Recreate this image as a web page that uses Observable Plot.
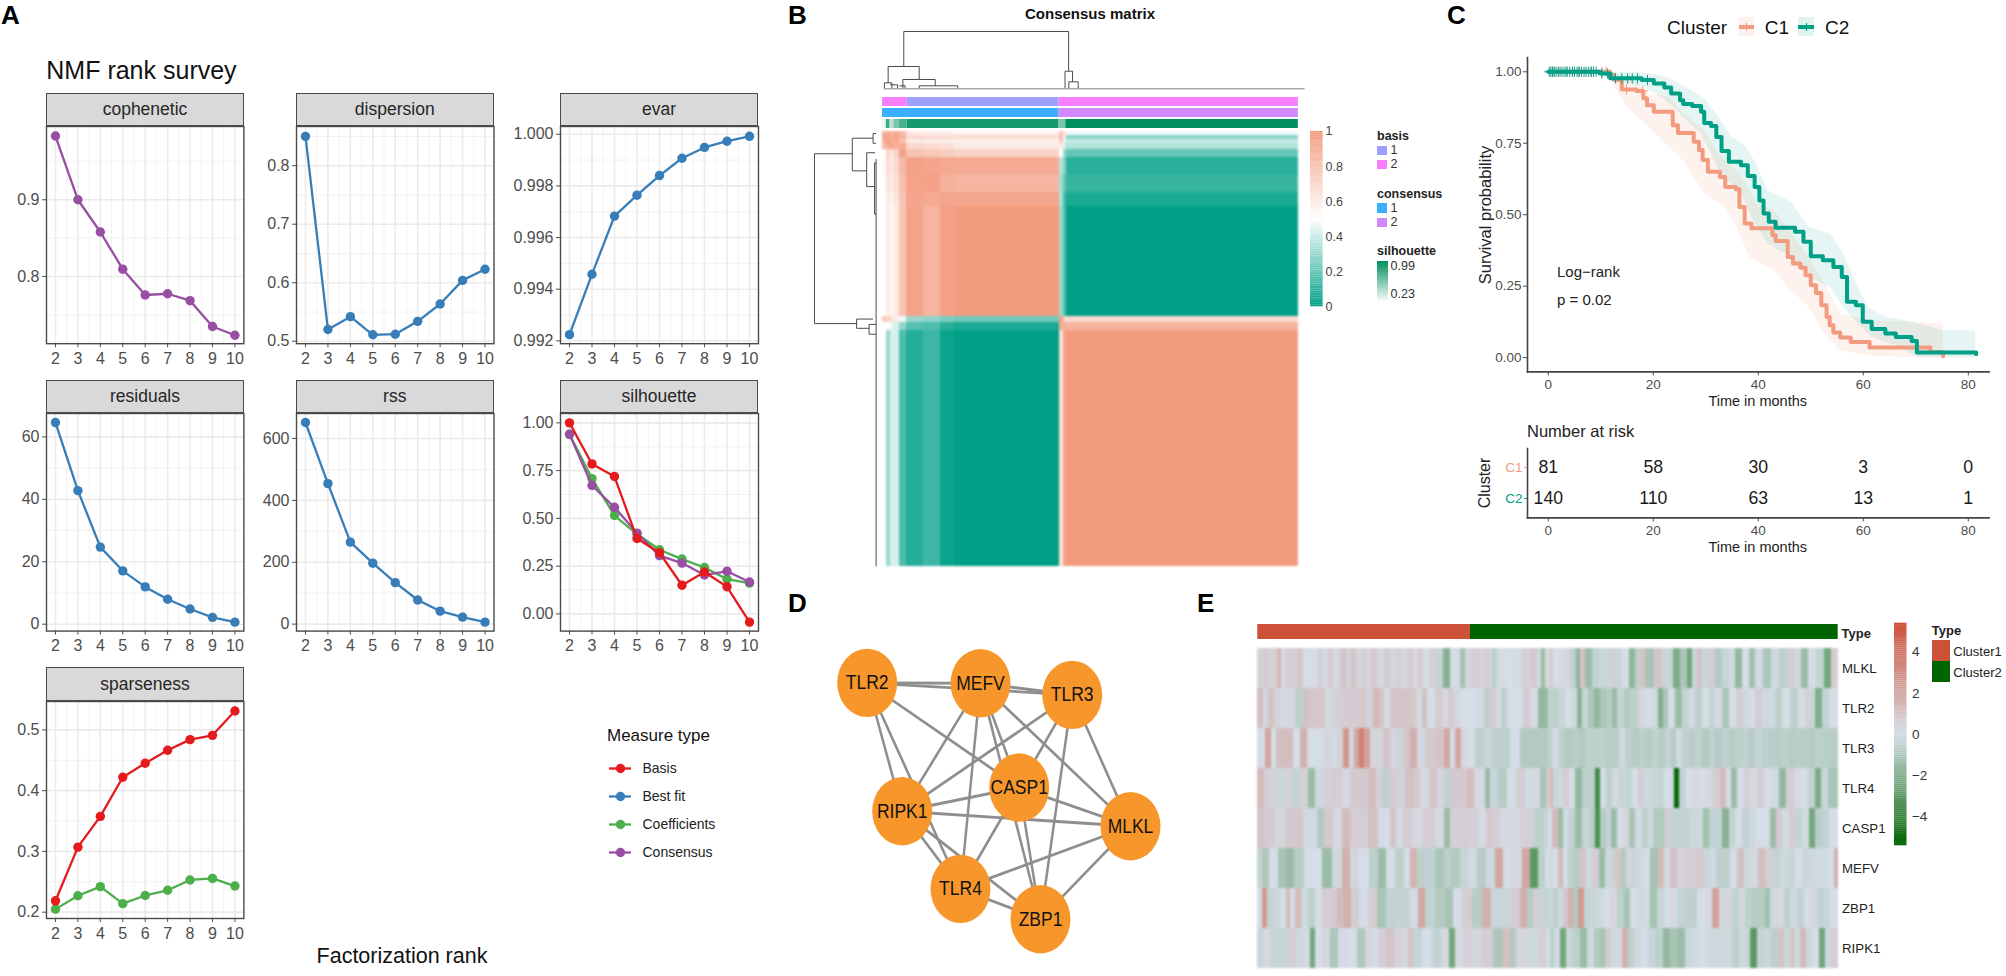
<!DOCTYPE html>
<html><head><meta charset="utf-8">
<script src="https://cdn.jsdelivr.net/npm/d3@7"></script>
<script src="https://cdn.jsdelivr.net/npm/@observablehq/plot@0.6"></script>
<style>
html,body{margin:0;padding:0;background:#fff}
#root{position:relative;width:2006px;height:976px;overflow:hidden;font-family:"Liberation Sans",Arial,sans-serif}
.t{position:absolute;white-space:nowrap;line-height:1}
.b{position:absolute}
</style></head><body><div id="root"></div>
<script>
// ---------- Panel A data ----------
const ranks=[2,3,4,5,6,7,8,9,10];
const copheneticConsensus=[.983,.9,.858,.8096,.776,.7776,.7686,.735,.7236];
const dispersionBest=[.85,.52,.542,.511,.512,.534,.5636,.604,.623];
const evarBest=[.99224,.99458,.99683,.99764,.9984,.99907,.99949,.99973,.99992];
const residualsBest=[64.6,42.8,24.7,17.1,11.95,8,4.86,2.2,.66];
const rssBest=[651.7,454,265,197,134,78,42,22.5,6.6];
const silhouetteBasis=[1,.785,.719,.395,.32,.15,.219,.142,-.043];
const silhouetteCoef=[.94,.708,.515,.418,.336,.287,.243,.182,.161];
const silhouetteCons=[.94,.672,.558,.423,.305,.266,.204,.223,.167];
const sparsenessBasis=[.2187,.307,.3577,.422,.445,.4665,.484,.491,.531];
const sparsenessCoef=[.205,.227,.242,.214,.2275,.236,.253,.2555,.243];
const measures=["Basis","Best fit","Coefficients","Consensus"];
const measureColors=["#E41A1C","#377EB8","#4DAF4A","#984EA3"];
// ---------- Panel B data ----------
const rowBreaks=[0,2,4,6,9,13,22,31,38,94,97,101,221];
const colBreaks=[0,2,4,6,9,13,22,31,38,94,96,98,221];
const m0=[.88,.92,.85,.92,.85,.6,.58,.58,.56,.8,.62,.47];
const m1=[.95,.95,.9,.95,.88,.7,.68,.68,.67,.82,.6,.27];
const m2=[.9,.97,.9,.92,.82,.6,.59,.58,.57,.75,.45,.38];
const m3=[.85,.9,.97,.88,.92,.7,.67,.65,.61,.6,.42,.35];
const m4=[.5,.72,.62,.72,.97,.8,.77,.75,.72,.5,.3,.2];
const m5=[.52,.68,.6,.68,.85,.97,.95,.93,.92,.36,.26,.08];
const m6=[.52,.64,.58,.66,.82,.96,.97,.89,.87,.32,.2,.11];
const m7=[.5,.62,.56,.62,.8,.95,.93,.95,.94,.34,.13,.05];
const m8=[.5,.6,.54,.6,.8,.96,.87,.97,1,.3,.16,0];
const m9=[.75,.72,.65,.6,.47,.3,.28,.24,.22,.98,.7,.68];
const m10=[.5,.5,.46,.42,.28,.17,.15,.08,.05,.92,.9,.88];
const m11=[.5,.3,.42,.42,.15,.07,.12,.02,0,.65,.95,1];
const matrixRows=[m0,m1,m2,m3,m4,m5,m6,m7,m8,m9,m10,m11];
const basisRuns=[[0,13.1,"2"],[13.1,93.8,"1"],[93.8,221,"2"]];
const consensusRuns=[[0,93.8,"1"],[93.8,221,"2"]];
const silBreaks=[0,2,4,6,9,13,93.8,97.4,221];
const silValues=[.25,.8,.4,.6,.75,.92,.6,.99];
const topTree=[[11.3,57.3,98.9,57.3],[11.3,57.3,11.3,22.3],[98.9,57.3,98.9,17.6],[3,22.3,19.5,22.3],[3,22.3,3,6],[19.5,22.3,19.5,9.3],[10.8,9.3,28,9.3],[10.8,9.3,10.8,0],[28,9.3,28,3],[19.5,3,40,3],[19.5,3,19.5,0],[40,3,40,0],[1,6,5,6],[1,6,1,0],[5,6,5,0],[4,4,8,4],[8,4,8,0],[9,3,12,3],[12,3,12,0],[97,17.6,101,17.6],[97,17.6,97,0],[101,17.6,101,7],[99,7,104,7],[99,7,99,0],[104,7,104,0]];
const leftTree=[[61.6,11.3,61.6,97.6],[61.6,11.3,23.8,11.3],[61.6,97.6,19.5,97.6],[23.8,3.4,23.8,20],[23.8,3.4,3,3.4],[23.8,20,9.4,20],[9.4,10.8,9.4,28],[9.4,10.8,1,10.8],[9.4,28,1.5,28],[19.5,95.3,19.5,100],[19.5,95.3,3,95.3],[19.5,100,7,100],[7,98,7,103],[7,98,0,98],[7,103,0,103],[3,1,3,6],[3,1,0,1],[3,6,0,6],[1.5,16,1.5,42],[1.5,16,0,16],[1.5,42,0,42],[0,14,0,221]];
// ---------- Panel C data ----------
const c1T=[0,11.5,12.5,14,16.8,18.1,18.8,20.1,23.7,24.7,27.7,28.7,29.4,30.4,32.7,33.7,35.7,36.4,37.4,38.7,42.7,43.3,45.6,46.6,48,49,50,51,52,53,53.6,54.3,55.6,57.6,61.2,72.8,75.2];
const c1S=[1,.99,.971,.938,.933,.907,.883,.86,.813,.786,.755,.726,.691,.65,.632,.597,.589,.527,.469,.453,.428,.408,.352,.329,.314,.288,.253,.226,.183,.142,.113,.0875,.07,.055,.035,.02,.005];
const c2T=[0,9.8,11.8,17.8,20.1,22.1,23.4,25.1,25.7,27.4,29.1,29.7,31,32,33,34.4,36.7,38,39.3,40.2,41,42,43.3,47,48.6,50,52.3,54.3,55.9,56.9,58.6,59.9,61.6,64.2,66.2,69.2,70.2,81.5];
const c2S=[1,.994,.977,.971,.959,.945,.924,.9,.887,.88,.86,.821,.81,.772,.723,.685,.673,.635,.597,.55,.504,.475,.454,.44,.405,.355,.341,.317,.282,.195,.183,.125,.1,.084,.072,.058,.0175,.012];
const c1HiT=[11.5,16.5,19,23,25.7,29.7,32.4,36.4,39.7,43,46.3,49.6,53,55.6,61.6,75.2,75.2];
const c1HiS=[1,.965,.924,.912,.854,.796,.714,.644,.539,.516,.434,.352,.247,.154,.131,.119,0];
const c1LoT=[11.5,12.5,15,18.4,23,25.7,29.7,33.7,36.4,38.3,43,45.6,49.6,53,55.6,62];
const c1LoS=[1,.947,.877,.819,.737,.69,.574,.527,.434,.352,.306,.247,.177,.072,.026,.005];
const c2HiT=[9.8,17,21,23,26.4,29.7,32.4,35,37.7,39.7,41.7,46.3,49.6,53.6,56.2,58.6,60.9,64.2,69.5,75.2,81.3,81.3];
const c2HiS=[1,1,.99,.977,.945,.907,.842,.772,.737,.673,.586,.545,.457,.434,.364,.259,.177,.142,.125,.096,.096,0];
const c2LoT=[9.8,11.8,18.4,22.4,25.7,29,31,33,36.4,39,41.7,46.3,49.6,53.6,56.2,58.9,61.6,66.2,70.2];
const c2LoS=[1,.977,.945,.9,.842,.784,.714,.632,.586,.48,.4,.352,.282,.247,.177,.119,.072,.043,.002];
const c1Censor=[1.2,2.1,3.5,5.8,8.1,10.2,11,11.6,12,14.9,18];
const c2Censor=[.2,.5,.8,1.1,1.5,1.9,2.4,2.8,3.2,3.6,4.1,4.6,5,5.5,5.9,6.3,6.8,7.2,7.7,8.2,8.6,9.1,10.2,11.3,12.8,14,15.1,16,17,18.9];
const riskTimes=[0,20,40,60,80];
const riskC1=[81,58,30,3,0];
const riskC2=[140,110,63,13,1];
// ---------- Panel D data ----------
const nodeNames=["TLR2","MEFV","TLR3","CASP1","RIPK1","MLKL","TLR4","ZBP1"];
const nodeX=[866.7,980,1071.7,1018.7,901.7,1130,960,1040];
const nodeY=[682.3,682.7,694.3,787,810.7,825.7,888.3,918.7];
const edgeList=[["TLR2","MEFV"],["MEFV","TLR3"],["TLR2","TLR3"],["TLR2","CASP1"],["TLR2","RIPK1"],["TLR2","TLR4"],["MEFV","RIPK1"],["MEFV","TLR4"],["MEFV","CASP1"],["MEFV","ZBP1"],["MEFV","MLKL"],["TLR3","RIPK1"],["TLR3","CASP1"],["TLR3","ZBP1"],["TLR3","MLKL"],["CASP1","RIPK1"],["CASP1","MLKL"],["CASP1","TLR4"],["CASP1","ZBP1"],["RIPK1","MLKL"],["RIPK1","TLR4"],["RIPK1","ZBP1"],["TLR4","MLKL"],["TLR4","ZBP1"],["MLKL","ZBP1"]];
// ---------- Panel E data: read position along the strip, value ----------
const genes=["MLKL","TLR2","TLR3","TLR4","CASP1","MEFV","ZBP1","RIPK1"];
const MLKL_L=[28,.8,44,1,60,.7,72,.8,86,2.2,98,.3,116,1,132,.8,148,1.3,165,0,190,0,210,.8,225,.3,240,1.1,258,.4,280,1.5,295,.8,310,1.5,325,.5,340,.9,355,.6,370,1.2,390,.3,410,1.1,425,.3,445,.8,462,.3,480,1,495,.4,510,1.1,525,0,545,.9,565,-.7,590,-2.6,610,0,622,.1,635,-1.7,655,.6,675,1,695,.7,712,1,720,.5,732,-1,750,.2,775,0,800,.1,825,.8,850,1.1,868,.4,875,-2,890,.3];
const MLKL_R=[15,1,30,0,50,.3,70,.5,85,-1,100,-2.3,110,1.5,130,-2,150,-.8,170,-.5,190,-.5,205,1,220,-.5,240,0,260,-2.3,275,-1,290,1.5,310,-1.6,340,1.5,360,-.5,375,-.6,393,-2.8,415,-1.5,432,-3,450,-.5,462,1.5,480,-.5,500,1,520,-1.3,540,-.6,560,-.3,578,-2.2,600,0,620,-1.8,640,-.2,665,-1.5,690,-.3,710,-1,740,1,760,-.3,775,-2,800,0,825,-.7,848,-3,865,1];
const TLR2_L=[30,1.8,45,.5,60,1.6,80,.8,100,.2,125,.4,145,-1,170,1.6,190,1.3,215,1.4,230,.2,250,.6,270,1,295,1.1,320,1,340,1.3,355,.8,378,2.1,395,1.5,408,.1,430,1.5,460,1.5,490,1.4,505,.2,522,1.6,540,0,570,1,585,.3,600,1.1,620,.4,640,0,665,0,690,.2,710,-1,730,1,745,.1,760,-1,780,0,805,0,828,1.1,850,.1,875,-2.2,890,-2];
const TLR2_R=[10,-.8,30,-1,50,-.6,70,0,90,-.3,101,-2.5,118,-.5,135,-1.5,155,-2.2,175,-1.5,190,-1.2,207,-2,225,-.7,245,-1.3,265,-1,290,.5,310,0,330,-.3,345,-2.7,360,-1.5,375,0,400,-2,420,-.7,440,.2,460,-1,480,0,500,-.7,520,.2,542,-1.5,560,0,585,1,600,-.3,620,0,640,1,660,-.3,680,-.2,700,-1,720,0,745,-1,770,0,785,.8,800,-.5,820,-2.7,840,-.7,860,0];
const TLR3_L=[30,.1,55,3,70,0,85,1.8,105,1.8,120,1.8,135,0,160,2.5,180,0,210,0,230,.5,250,.2,270,.7,288,3.6,303,.5,318,3,332,4.5,350,3.2,370,.5,385,.5,410,1.5,430,.5,450,-.5,470,1.5,490,2.5,510,.3,540,1.2,570,1.5,590,3,605,0,622,3,640,.3,660,0,690,-1,710,-.5,740,-1,770,-1,790,0,830,-1.3,870,-1.3,890,-1.3];
const TLR3_R=[10,-1,30,-.2,50,-1,70,-1.3,90,-1.1,110,-1.3,130,-1,150,-1,170,-1,190,-1.1,210,-1.1,230,-.2,250,-1,270,-1.2,290,-1,310,-1.2,330,-.9,350,-1.2,370,-.7,385,-1.2,400,-.2,420,-.9,440,-1.1,460,-.9,480,-1.3,500,-.9,520,-1.2,540,-.9,560,-1.2,580,-1,600,-.9,620,-1.2,640,-.7,660,-1,680,-1.1,700,-1.1,720,-1,740,-1.2,760,-1.1,780,-1.1,800,-1.3,820,-1,840,-1.1,860,-1.2];
const TLR4_L=[30,2,50,.8,70,.7,95,-.5,110,.7,140,-.7,160,.8,183,-2,205,-.3,230,.8,260,1,290,.3,310,1.2,340,1.2,370,2,385,.8,405,-1,425,1,450,.8,480,1.6,500,1.2,520,.3,550,1.5,570,.5,590,-.8,610,1.2,640,1.2,660,1.8,680,.3,700,.2,710,-2,730,-.5,755,-1.2,785,0,810,1,835,-.2,860,.3,880,-1.6,895,1.2];
const TLR4_R=[15,2,30,-.5,45,-.3,60,1,80,0,100,-2.2,120,-1,140,-1,155,-4,175,0,190,-1,210,.3,230,-.6,250,-.7,270,0,285,1,305,-.3,325,-.5,345,-.6,365,0,380,-.3,392,-5.3,410,-.8,430,0,450,.2,470,0,490,.3,510,1,535,2,550,0,565,-2,585,0,605,.8,625,.2,645,1,665,0,690,-.2,710,-2.2,735,1,755,.2,775,0,800,-.8,817,-2.8,835,-.5,860,-1.6];
const CASP1_L=[30,1.5,60,1.1,90,.5,115,1.2,145,1.3,170,-.2,190,-.2,208,-1.3,235,1.2,260,.3,290,2,310,1,335,1,370,1.6,395,.1,410,0,430,1.5,445,.2,470,1,500,.3,535,1,570,.3,590,-2,610,.8,640,1,670,.8,700,.1,715,1.2,735,1,760,.2,790,.3,830,.8,870,-1,890,-.6];
const CASP1_R=[10,0,30,2,45,-2,60,-.2,80,-.8,100,-2,120,-.6,140,-1.1,155,-3.8,175,-1.2,190,-.7,205,-2,225,0,240,.5,260,-1.6,280,-.2,300,-1,315,-.3,330,-1.3,350,-1.3,368,1,385,-.7,405,-.7,425,-.7,445,-.4,465,-.4,480,-1.8,500,-.8,520,-.7,542,-2.5,560,-.7,580,0,600,-.8,620,-.4,640,0,665,0,685,-2,700,1.2,720,-.2,740,1,760,-.7,780,-.2,800,-3,820,-1.1,840,-.8,860,0];
const MEFV_L=[25,-.7,42,-1.4,70,0,95,-1.6,118,-2,145,-1.2,175,0,200,0,232,-2,260,-.3,290,2.5,310,.5,340,0,370,-1,395,-2,420,0,450,-1,470,0,490,2.3,510,-1,540,-.8,570,-1.5,590,-1,615,-1.3,640,-.6,665,-.2,695,-1.2,720,-.3,748,3,770,0,800,.3,828,3,850,-3.5,875,-1,895,0];
const MEFV_R=[15,.3,30,0,45,2,60,0,75,-1,95,-1.2,115,1.5,130,-.3,150,1,170,-2,185,-.4,200,-.5,218,1.5,235,-1.3,250,.6,265,-.5,285,-.3,305,0,325,-1.7,348,2,365,.2,385,1.6,405,.6,425,1,445,1,465,1.2,485,-.5,505,-.2,520,-1,545,-1,565,0,585,1.7,605,-.4,625,.3,650,1.8,670,1,695,-.7,720,-.3,740,-.6,760,0,780,-.5,800,-.3,820,-.2,840,-.2,860,0,872,2.5];
const ZBP1_L=[25,0,42,3.5,60,-.7,80,-.5,100,0,112,2,125,0,143,2,160,-.3,185,-1,205,0,225,1,250,1.2,270,2,293,2.5,310,1,340,0,365,1,395,-1.6,420,-.8,445,-.7,470,-.7,490,.2,513,3,535,-.8,570,-1.3,595,-1.6,620,0,650,1,680,-1.2,710,2.5,735,-.5,770,-.5,795,1,820,2.5,838,-1.2,855,1,870,-.6,890,-.7];
const ZBP1_R=[15,-.5,30,-1,45,-.3,60,1.3,75,2.5,90,-1.3,108,3.5,125,-.7,145,-.5,165,-.3,185,0,205,.5,225,-1,245,-1.6,265,0,285,-.3,305,-.2,322,-1.7,345,-.5,365,0,385,.3,405,-.7,425,-.9,445,-1,465,0,490,.2,510,3.2,530,.4,550,.5,570,-.8,590,.3,610,-1,630,-1.2,650,-1.2,665,-1.8,685,-.3,705,.3,725,-1,745,-.3,765,-.8,785,0,805,.3,825,-.8,845,-.5,865,0];
const RIPK1_L=[30,-.5,50,.2,70,-.6,100,-.6,125,1,150,-.3,170,.2,185,-3,205,0,225,.5,250,-1.5,275,.2,305,0,333,-1.4,355,.5,375,.2,395,1,420,1.5,440,.7,465,.5,480,1.5,500,-.7,530,0,560,-.8,585,.3,605,-3,625,.2,650,.8,675,.5,710,1,745,-1.5,770,1.7,785,-1.3,810,.5,850,-.3,880,1,895,0];
const RIPK1_R=[15,-1,35,-.2,52,-3,70,-.5,90,-1,115,-2,135,-.3,155,-1.3,170,-1.6,185,1.3,200,-.3,220,-.2,238,2.5,255,-1,275,-.3,295,0,320,-.6,340,-1,365,-2.2,385,-1.6,410,-2,430,-.5,450,-.2,470,0,490,-.3,510,-.4,530,-.3,550,-.3,570,-1,590,-.3,605,-.5,625,-3.5,645,-.7,665,-.5,690,-1,705,1.5,725,-.5,740,1.3,755,-.3,772,2,790,-.4,810,0,830,-3,845,-.3,860,1];
const geneLeft=[MLKL_L,TLR2_L,TLR3_L,TLR4_L,CASP1_L,MEFV_L,ZBP1_L,RIPK1_L];
const geneRight=[MLKL_R,TLR2_R,TLR3_R,TLR4_R,CASP1_R,MEFV_R,ZBP1_R,RIPK1_R];

// ---------- helpers ----------
const FONT='"Liberation Sans",Arial,sans-serif';
const root=document.getElementById("root");
function P(x0,y0,x1,y1,o,m={},extra={}){
  const {ml=0,mr=0,mt=0,mb=0}=m;
  const el=Plot.plot({width:x1-x0+ml+mr,height:y1-y0+mt+mb,marginLeft:ml,marginRight:mr,marginTop:mt,marginBottom:mb,
    style:{position:"absolute",left:(x0-ml)+"px",top:(y0-mt)+"px",overflow:"visible",background:"transparent",fontFamily:FONT,maxWidth:"none",...extra},...o});
  root.append(el);return el;
}
function txt(s,x,y,o={}){
  const {size=14,anchor="start",weight="normal",color="#1a1a1a",rot=0,font=FONT,lh=1}=o;
  const d=document.createElement("div");d.className="t";d.textContent=s;
  const tx=anchor==="start"?"0":anchor==="middle"?"-50%":"-100%";
  d.style.cssText=`left:${x}px;top:${y}px;font-size:${size}px;font-weight:${weight};color:${color};font-family:${font};line-height:${lh};transform:translate(${tx},-50%) rotate(${rot}deg)`;
  root.append(d);return d;
}
function box(x0,y0,x1,y1,bg,css=""){
  const d=document.createElement("div");d.className="b";
  d.style.cssText=`left:${x0}px;top:${y0}px;width:${x1-x0}px;height:${y1-y0}px;background:${bg};${css}`;
  root.append(d);return d;
}
const hdr={size:26,weight:"bold",color:"#000",lh:1.2};
txt("A",1,16,hdr);txt("B",788,16,hdr);txt("C",1447,16,hdr);txt("D",788,604,hdr);txt("E",1197,604,hdr);

// ---------- Panel A ----------
txt("NMF rank survey",46.3,70,{size:25,color:"#111"});
const colX=[[46.3,243.7],[296,493.5],[560,758]];
function facet(name,col,stripTop,top,bottom,dom,ticks,fmt,series){
  const [x0,x1]=colX[col];
  box(x0,stripTop,x1,top,"#d9d9d9","box-sizing:border-box;border:1.3px solid #4a4a4a");
  txt(name,(x0+x1)/2,(stripTop+top)/2+.5,{size:17.5,anchor:"middle",color:"#262626"});
  const step=ticks[1]-ticks[0];
  const minorY=[ticks[0]-step/2,...ticks.map(t=>t+step/2)].filter(v=>v>dom[0]&&v<dom[1]);
  const minorX=ranks.slice(0,-1).map(r=>r+.5);
  P(x0,top,x1,bottom,{
    x:{domain:[1.6,10.4],axis:null},y:{domain:dom,axis:null},
    marks:[
      Plot.ruleX(minorX,{stroke:"#f2f2f2",strokeWidth:1}),
      Plot.ruleY(minorY,{stroke:"#f2f2f2",strokeWidth:1}),
      Plot.ruleX(ranks,{stroke:"#ebebeb",strokeWidth:1.6}),
      Plot.ruleY(ticks,{stroke:"#ebebeb",strokeWidth:1.6}),
      ...series.flatMap(([vals,c])=>{
        const d=ranks.map((r,i)=>({r,v:vals[i]}));
        return [Plot.line(d,{x:"r",y:"v",stroke:c,strokeWidth:2.3}),Plot.dot(d,{x:"r",y:"v",fill:c,r:4.7})];
      }),
      Plot.frame({stroke:"#4a4a4a",strokeWidth:1.4}),
      Plot.axisX(ranks,{label:null,tickSize:4,tickPadding:5,fontSize:16,color:"#4d4d4d",tickFormat:d=>d}),
      Plot.axisY(ticks,{label:null,tickSize:4,tickPadding:3,fontSize:16,color:"#4d4d4d",tickFormat:fmt})
    ]
  },{ml:60,mr:6,mt:4,mb:30});
}
const [cBasis,cBest,cCoef,cCons]=measureColors;
facet("cophenetic",0,93,125.7,342.9,[.7126,.9954],[.8,.9],d3.format(".1f"),[[copheneticConsensus,cCons]]);
facet("dispersion",1,93,125.7,342.9,[.4958,.867],[.5,.6,.7,.8],d3.format(".1f"),[[dispersionBest,cBest]]);
facet("evar",2,93,125.7,342.9,[.99189,1.0003],[.992,.994,.996,.998,1],d3.format(".3f"),[[evarBest,cBest]]);
facet("residuals",0,380.4,413,630.6,[-2.2,67.5],[0,20,40,60],d3.format("d"),[[residualsBest,cBest]]);
facet("rss",1,380.4,413,630.6,[-22.5,680.8],[0,200,400,600],d3.format("d"),[[rssBest,cBest]]);
facet("silhouette",2,380.4,413,630.6,[-.09,1.049],[0,.25,.5,.75,1],d3.format(".2f"),[[silhouetteCoef,cCoef],[silhouetteCons,cCons],[silhouetteBasis,cBasis]]);
facet("sparseness",0,667.3,700.7,917.7,[.1896,.5467],[.2,.3,.4,.5],d3.format(".1f"),[[sparsenessCoef,cCoef],[sparsenessBasis,cBasis]]);
txt("Factorization rank",402,957,{size:21.5,anchor:"middle",color:"#111"});
txt("Measure type",607,735,{size:17,color:"#111"});
P(609,767.3,631,853.7,{
  x:{domain:[0,1],axis:null},y:{type:"point",domain:measures,padding:0,axis:null},
  marks:[
    Plot.ruleY(measures,{y:d=>d,x1:0,x2:1,stroke:d=>measureColors[measures.indexOf(d)],strokeWidth:2.3}),
    Plot.dot(measures,{x:()=>.5,y:d=>d,fill:d=>measureColors[measures.indexOf(d)],r:4.7}),
    Plot.text(measures,{x:()=>1,y:d=>d,text:d=>d,textAnchor:"start",dx:11,fontSize:14,fill:"#222"})
  ],color:{type:"identity"}
},{mr:100,mt:6,mb:6});

// ---------- Panel B ----------
txt("Consensus matrix",1090,13.3,{size:15,weight:"bold",anchor:"middle",color:"#111"});
const nmfColor={type:"linear",domain:[0,.5,1],range:["#00A087","#ffffff","#F39B7F"],interpolate:"rgb"};
const cells=matrixRows.flatMap((row,i)=>row.map((v,j)=>({x1:colBreaks[j],x2:colBreaks[j+1],y1:rowBreaks[i],y2:rowBreaks[i+1],v})));
P(882.3,130.7,1298.2,565.7,{
  x:{domain:[0,221],axis:null},y:{domain:[221,0],axis:null},color:nmfColor,
  marks:[Plot.rect(cells,{x1:"x1",x2:"x2",y1:"y1",y2:"y2",fill:"v",shapeRendering:"crispEdges"})]
},{},{filter:"blur(.9px)"});
const annoRows=["basis","consensus","silhouette"];
const basisFill={"1":"#9e9efc","2":"#f77ffc"};const consFill={"1":"#3aaeff","2":"#d088fc"};
const silColor=d3.scaleLinear([.23,.99],["#f1f8f5","#008f5f"]);
const anno=[
  ...basisRuns.map(([a,b,k])=>({a,b,row:"basis",c:basisFill[k]})),
  ...consensusRuns.map(([a,b,k])=>({a,b,row:"consensus",c:consFill[k]})),
  ...silValues.map((v,i)=>({a:silBreaks[i],b:silBreaks[i+1],row:"silhouette",c:silColor(v)}))
];
P(882.3,94.8,1298.2,130.2,{
  x:{domain:[0,221],axis:null},y:{domain:annoRows,axis:null,padding:.19,align:.5},color:{type:"identity"},
  marks:[Plot.barX(anno,{x1:"a",x2:"b",y:"row",fill:"c"})]
});
const seg=(arr)=>Plot.link(arr,{x1:d=>d[0],y1:d=>d[1],x2:d=>d[2],y2:d=>d[3],stroke:"#4a4a4a",strokeWidth:1});
P(882.3,31,1298.2,88.3,{
  x:{domain:[0,221],axis:null},y:{domain:[0,57.3],axis:null},
  marks:[seg(topTree),Plot.ruleY([0],{x1:.9,x2:224.6,stroke:"#a8a8a8",strokeWidth:1.6})]
});
P(813.8,130.7,875.4,565.7,{
  x:{domain:[61.6,0],axis:null},y:{domain:[221,0],axis:null},marks:[seg(leftTree)]
});
P(1310.4,130.7,1323,306,{
  x:{domain:[0,1],axis:null},y:{domain:[0,1],axis:null},color:nmfColor,
  marks:[
    Plot.rect(d3.range(0,1,.01),{x1:0,x2:1,y1:d=>d,y2:d=>d+.0105,fill:d=>d+.005}),
    Plot.axisY([0,.2,.4,.6,.8,1],{label:null,anchor:"right",tickSize:0,tickPadding:2.5,fontSize:12.5,color:"#444",tickFormat:d=>d})
  ]
},{mr:30,mt:6,mb:6});
const lg={size:12.5,color:"#333"},lh={size:12.5,weight:"bold",color:"#222"};
txt("basis",1377,135.7,lh);
box(1377,145.7,1387,155,"#9e9efc");box(1377,160,1387,169.3,"#f77ffc");
txt("1",1390.6,150,lg);txt("2",1390.6,164.3,lg);
txt("consensus",1377,193.7,lh);
box(1377,203.3,1387,212.7,"#3aaeff");box(1377,217.7,1387,227,"#d088fc");
txt("1",1390.6,207.7,lg);txt("2",1390.6,222.3,lg);
txt("silhouette",1377,251,lh);
box(1377,261,1388,300,"linear-gradient(#008f5f,#f1f8f5)");
txt("0.99",1390.6,265.7,lg);txt("0.23",1390.6,294.3,lg);

// ---------- Panel C ----------
txt("Cluster",1667,26.7,{size:19,color:"#111"});
box(1738.6,16.7,1754,35.7,"rgba(243,155,127,.14)");box(1738.6,25,1754,28.5,"#F39B7F");box(1745.8,22.5,1746.8,31,"#F39B7F");
txt("C1",1764.7,26.7,{size:19,color:"#111"});
box(1798.4,16.7,1814.4,35.7,"rgba(0,160,135,.12)");box(1798.4,25,1814.4,28.5,"#00A087");box(1805.9,22.5,1806.9,31,"#00A087");
txt("C2",1825,26.7,{size:19,color:"#111"});
function stepAt(T,S,t){let i=d3.bisectRight(T,t)-1;return S[Math.max(i,0)];}
const outline=(hT,hS,lT,lS)=>[...hT.map((t,i)=>({t,s:hS[i]})),...lT.map((t,i)=>({t,s:lS[i]})).reverse()];
const curve=(T,S)=>T.map((t,i)=>({t,s:S[i]}));
const censor=(ts,T,S)=>ts.map(t=>({t,s:stepAt(T,S,t)}));
const C1col="#F39B7F",C2col="#00A087";
const timeDom=[-3.96,83.96];
P(1526.9,57.3,1988.5,371.7,{
  x:{domain:timeDom,axis:null},y:{domain:[-.05,1.05],axis:null},
  marks:[
    Plot.line(outline(c1HiT,c1HiS,c1LoT,c1LoS),{x:"t",y:"s",fill:C1col,fillOpacity:.13,stroke:"none"}),
    Plot.line(outline(c2HiT,c2HiS,c2LoT,c2LoS),{x:"t",y:"s",fill:C2col,fillOpacity:.1,stroke:"none"}),
    Plot.line(curve(c1T,c1S),{x:"t",y:"s",curve:"step-after",stroke:C1col,strokeWidth:4}),
    Plot.dot(censor(c1Censor,c1T,c1S),{x:"t",y:"s",symbol:"plus",stroke:C1col,r:3.4,strokeWidth:1}),
    Plot.line(curve(c2T,c2S),{x:"t",y:"s",curve:"step-after",stroke:C2col,strokeWidth:4}),
    Plot.dot(censor(c2Censor,c2T,c2S),{x:"t",y:"s",symbol:"plus",stroke:C2col,r:3.4,strokeWidth:1}),
    Plot.frame({anchor:"left",stroke:"#444",strokeWidth:1.6}),
    Plot.frame({anchor:"bottom",stroke:"#444",strokeWidth:1.6}),
    Plot.axisX(riskTimes,{label:null,tickSize:4,tickPadding:4,fontSize:13.5,color:"#4d4d4d",tickFormat:d=>d}),
    Plot.axisY([0,.25,.5,.75,1],{label:null,tickSize:4,tickPadding:2,fontSize:13.5,color:"#4d4d4d",tickFormat:d3.format(".2f")}),
    Plot.text(["Log\u2212rank"],{x:()=>1.66,y:()=>.3,text:d=>d,textAnchor:"start",fontSize:15,fill:"#222"}),
    Plot.text(["p = 0.02"],{x:()=>1.66,y:()=>.2,text:d=>d,textAnchor:"start",fontSize:15,fill:"#222"})
  ]
},{ml:40,mr:4,mt:2,mb:26});
txt("Time in months",1757.7,401,{size:14.5,anchor:"middle",color:"#222"});
txt("Survival probability",1485,215,{size:16.5,anchor:"middle",color:"#222",rot:-90});
txt("Number at risk",1527,430.7,{size:16.5,color:"#222"});
const clusters=["C1","C2"];
const riskRows=[...riskTimes.map((t,i)=>({t,c:"C1",n:riskC1[i]})),...riskTimes.map((t,i)=>({t,c:"C2",n:riskC2[i]}))];
P(1526.9,448.3,1988.5,517.7,{
  x:{domain:timeDom,axis:null},y:{type:"point",domain:clusters,padding:.6,axis:null},
  marks:[
    Plot.frame({anchor:"left",stroke:"#444",strokeWidth:1.6}),
    Plot.frame({anchor:"bottom",stroke:"#444",strokeWidth:1.6}),
    Plot.text(riskRows,{x:"t",y:"c",text:d=>String(d.n),fontSize:17.7,fill:"#1a1a1a"}),
    Plot.axisX(riskTimes,{label:null,tickSize:4,tickPadding:4,fontSize:13.5,color:"#4d4d4d",tickFormat:d=>d}),
    Plot.axisY(["C1"],{label:null,tickSize:3,tickPadding:2,fontSize:13.5,color:C1col}),
    Plot.axisY(["C2"],{label:null,tickSize:3,tickPadding:2,fontSize:13.5,color:C2col})
  ]
},{ml:40,mr:4,mt:2,mb:26});
txt("Time in months",1757.7,546.7,{size:14.5,anchor:"middle",color:"#222"});
txt("Cluster",1485,482.7,{size:16,anchor:"middle",color:"#222",rot:-90});

// ---------- Panel D ----------
const nodes=nodeNames.map((n,i)=>({n,x:nodeX[i],y:nodeY[i]}));
const byName=Object.fromEntries(nodes.map(d=>[d.n,d]));
const edges=edgeList.map(([a,b])=>({a:byName[a],b:byName[b]}));
const dStretch=1.14;
const dTop=630,dBottom=970;
P(800,dTop,1190,dTop+(dBottom-dTop)/dStretch,{
  x:{domain:[800,1190],axis:null},y:{domain:[dBottom,dTop],axis:null},
  marks:[
    Plot.link(edges,{x1:d=>d.a.x,y1:d=>d.a.y,x2:d=>d.b.x,y2:d=>d.b.y,stroke:"#8e8e8e",strokeWidth:2.5}),
    Plot.dot(nodes,{x:"x",y:"y",r:30,fill:"#F7972B"}),
    Plot.text(nodes,{x:"x",y:"y",text:"n",fontSize:17.5,fill:"#111"})
  ]
},{},{transform:`scaleY(${dStretch})`,transformOrigin:"0 0"});

// ---------- Panel E ----------
const heat=genes.flatMap((g,gi)=>{
  const pts=[];
  const L=geneLeft[gi],R=geneRight[gi];
  for(let i=0;i<L.length;i+=2)pts.push([L[i]-20,L[i+1]]);
  for(let i=0;i<R.length;i+=2)pts.push([R[i]+865,R[i+1]]);
  return pts.map((p,i)=>({g,v:p[1],
    a:i?(pts[i-1][0]+p[0])/2:0,
    b:i<pts.length-1?(p[0]+pts[i+1][0])/2:1742.5})).filter(d=>d.b>d.a);
});
const heatColor={type:"linear",domain:[-5.4,0,5.4],range:["#006400","#d5dde6","#CD5038"],interpolate:"rgb"};
// the stripes were read by eye, and read darker than the colour bar says: calibrate
const calibrate=d3.scaleLinear([-5.4,-2.7,-1,0,1,3,5.4],[-5.4,-2.1,-.6,0,.6,2.1,4.5]);
P(1256.6,644.3,1837.5,971.7,{
  x:{domain:[0,1742.5],axis:null},y:{domain:genes,padding:0,axis:null},color:heatColor,
  marks:[Plot.barX(heat,{x1:"a",x2:"b",y:"g",fill:d=>calibrate(d.v),shapeRendering:"crispEdges"})]
},{},{filter:"blur(1px)"});
P(1837.5,644.3,1838,971.7,{
  x:{domain:[0,1],axis:null},y:{type:"band",domain:genes,padding:0,axis:null},
  marks:[Plot.axisY(genes,{label:null,anchor:"right",tickSize:0,tickPadding:3,fontSize:13.3,color:"#222"})]
},{mr:60});
const clusterNames=["Cluster1","Cluster2"];
const clusterCounts=[81,140];
const clusterColors=["#CD5038","#006400"];
P(1256.6,624.3,1837.5,640,{
  x:{domain:[0,221],axis:null},y:{domain:["Type"],padding:0,axis:null},color:{type:"identity"},
  marks:[Plot.barX(clusterNames.map((n,i)=>({n,a:i?clusterCounts[0]:0,b:i?221:clusterCounts[0],c:clusterColors[i]})),{x1:"a",x2:"b",y:()=>"Type",fill:"c"})]
});
txt("Type",1841.6,633.3,{size:13,weight:"bold",color:"#222"});
P(1894.2,623.3,1906.7,845,{
  x:{domain:[0,1],axis:null},y:{domain:[-5.37,5.39],axis:null},color:heatColor,
  marks:[
    Plot.rect(d3.range(-5.4,5.4,.1),{x1:0,x2:1,y1:d=>d,y2:d=>d+.105,fill:d=>d+.05}),
    Plot.axisY([-4,-2,0,2,4],{label:null,anchor:"right",tickSize:0,tickPadding:5,fontSize:13.5,color:"#333"})
  ]
},{mr:26,mt:6,mb:6});
txt("Type",1931.8,630,{size:13,weight:"bold",color:"#222"});
box(1931.8,640,1950.3,660.7,clusterColors[0]);box(1931.8,660.7,1950.3,681.7,clusterColors[1]);
txt(clusterNames[0],1953.3,650.7,{size:13,color:"#222"});
txt(clusterNames[1],1953.3,671.7,{size:13,color:"#222"});
</script></body></html>
